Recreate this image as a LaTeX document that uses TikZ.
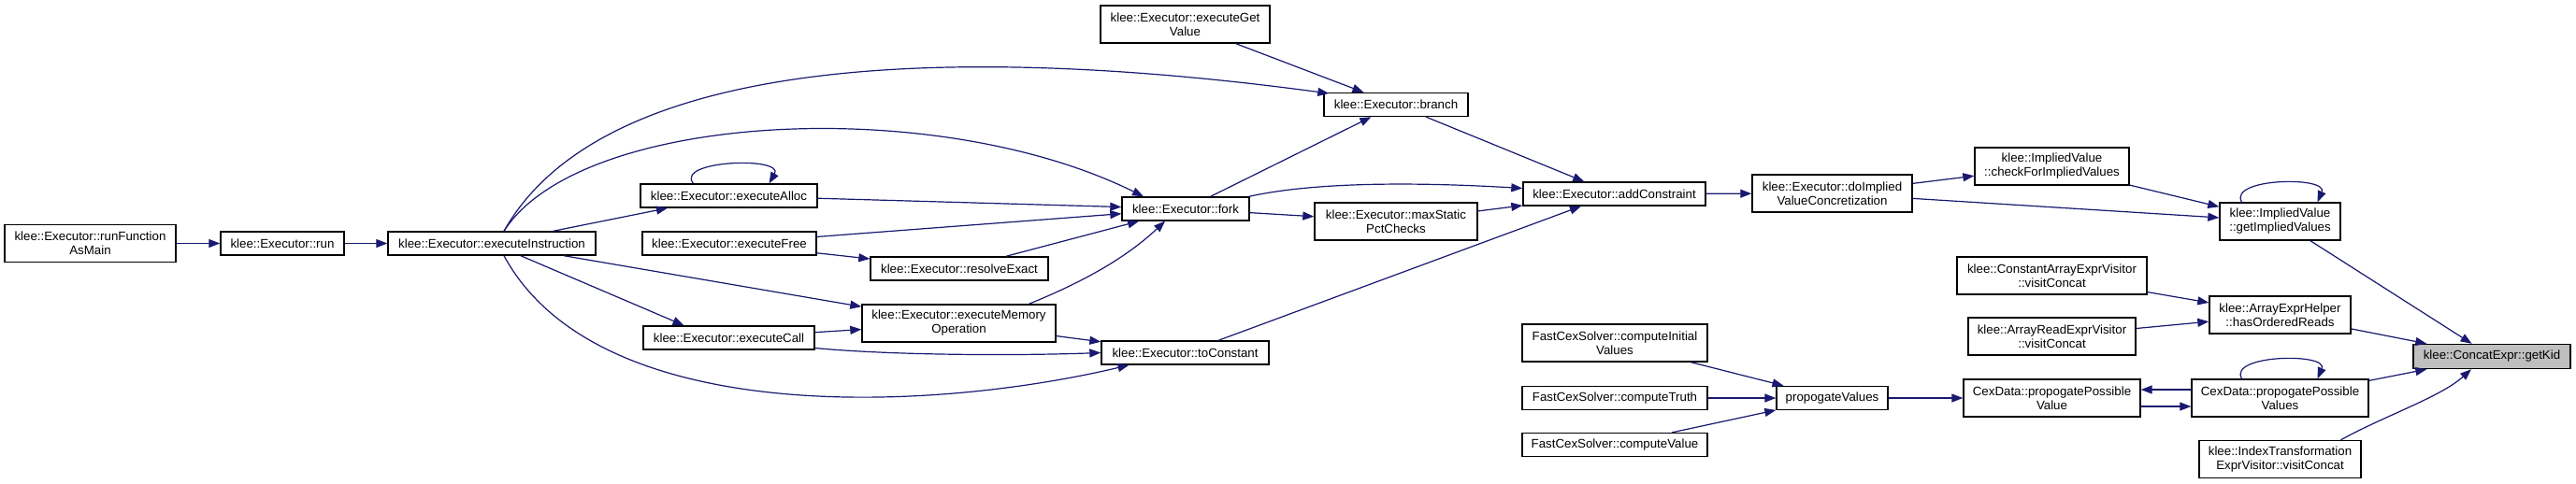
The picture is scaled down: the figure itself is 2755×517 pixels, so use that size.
\documentclass[tikz,border=0pt]{standalone}
\usepackage{fontspec}
\setmainfont{Liberation Sans}
\usetikzlibrary{arrows.meta}
\definecolor{CallBlue}{HTML}{191970}
\definecolor{KidGrey}{HTML}{BFBFBF}

\begin{document}
\begin{tikzpicture}[
  x=1pt, y=-1pt,
  fn/.style={draw=black, line width=1.4pt, fill=white, text width=#1pt, align=center, inner xsep=0pt, inner ysep=1pt, minimum height=25pt, font=\fontsize{13.3}{15}\selectfont},
  fntwo/.style={fn=#1, minimum height=40pt},
  focus/.style={fn=#1, fill=KidGrey, minimum height=26pt},
  call/.style={-{Triangle[length=12pt,width=9pt]}, draw=CallBlue, fill=CallBlue, line width=1.2pt},
  selfcall/.style={call, fill=none, -{Triangle[length=12pt,width=9pt,fill=CallBlue]}}
]
  \useasboundingbox (0,0) rectangle (2755,517);

  \node[fntwo=183] (runmain) at (96.5,260.5) {klee::Executor::runFunction\\AsMain};
  \node[fn=132] (run) at (302,260.5) {klee::Executor::run};
  \node[fn=222] (execinstr) at (526,260.5) {klee::Executor::executeInstruction};
  \node[fn=189] (execalloc) at (779.5,209.5) {klee::Executor::executeAlloc};
  \node[fn=186] (execfree) at (780,260.5) {klee::Executor::executeFree};
  \node[fn=183] (execcall) at (779.5,361.5) {klee::Executor::executeCall};
  \node[fntwo=181] (getvalue) at (1267.5,26) {klee::Executor::executeGet\\Value};
  \node[fn=154] (branch) at (1493,112) {klee::Executor::branch};
  \node[fn=136] (fork) at (1268,223.5) {klee::Executor::fork};
  \node[fntwo=174] (maxstatic) at (1493,237) {klee::Executor::maxStatic\\PctChecks};
  \node[fn=195] (addconstr) at (1726.5,207.5) {klee::Executor::addConstraint};
  \node[fn=190] (resolve) at (1026,287.5) {klee::Executor::resolveExact};
  \node[fntwo=207] (memop) at (1025.5,346) {klee::Executor::executeMemory\\Operation};
  \node[fn=179] (toconst) at (1267.5,377.5) {klee::Executor::toConstant};
  \node[fntwo=198] (initvals) at (1727,367) {FastCexSolver::computeInitial\\Values};
  \node[fn=198] (truth) at (1727,426) {FastCexSolver::computeTruth};
  \node[fn=198] (value) at (1727,476) {FastCexSolver::computeValue};
  \node[fntwo=171] (doimplied) at (1959.5,207) {klee::Executor::doImplied\\ValueConcretization};
  \node[fntwo=165] (checkimpl) at (2194.5,178) {klee::ImpliedValue\\::checkForImpliedValues};
  \node[fntwo=129] (getimpl) at (2438.5,237) {klee::ImpliedValue\\::getImpliedValues};
  \node[fntwo=203] (constvisit) at (2194.5,295) {klee::ConstantArrayExprVisitor\\::visitConcat};
  \node[fntwo=151] (ordreads) at (2438.5,337) {klee::ArrayExprHelper\\::hasOrderedReads};
  \node[fntwo=179] (readvisit) at (2194.5,360) {klee::ArrayReadExprVisitor\\::visitConcat};
  \node[focus=168] (getkid) at (2665,381.5) {klee::ConcatExpr::getKid};
  \node[fn=119] (propvalues) at (1959.5,426) {propogateValues};
  \node[fntwo=189] (possval) at (2194.5,426) {CexData::propogatePossible\\Value};
  \node[fntwo=189] (possvals) at (2438.5,426) {CexData::propogatePossible\\Values};
  \node[fntwo=173] (idxvisit) at (2438.5,491.5) {klee::IndexTransformation\\ExprVisitor::visitConcat};

  \draw[call] (runmain) -- (run);
  \draw[call] (run) -- (execinstr);
  \draw[call] (execinstr) -- (execalloc);
  \draw[selfcall] ([xshift=-38]execalloc.north) .. controls +(-20,-25) and +(17,-29) .. ([xshift=43]execalloc.north);
  \draw[selfcall] ([xshift=13]execinstr.north) .. controls (650,50) and (1050,50) .. ([xshift=6,yshift=12]branch.west);
  \draw[selfcall] ([xshift=13]execinstr.north) .. controls (620,120) and (1000,100) .. ([xshift=-45]fork.north);
  \draw[selfcall] ([xshift=13]execinstr.south) .. controls (640,460) and (1000,440) .. ([xshift=-60]toconst.south);
  \draw[call] (execinstr) -- (memop);
  \draw[call] (execinstr) -- ([xshift=-48]execcall.north);
  \draw[call] (execalloc) -- (fork);
  \draw[call] (execfree) -- (fork);
  \draw[call] (execfree) -- (resolve);
  \draw[call] (resolve) -- (fork);
  \draw[call] (execcall) -- (memop);
  \draw[selfcall] ([yshift=-11]execcall.east) .. controls (950,380) and (1080,381) .. (toconst.west);
  \draw[selfcall] ([xshift=75]memop.north) .. controls (1150,305) and (1200,280) .. ([xshift=-22]fork.south);
  \draw[call] (memop) -- (toconst);
  \draw[call] (fork) -- (branch);
  \draw[selfcall] ([xshift=-1]fork.north east) .. controls (1400,196) and (1500,194) .. ([yshift=6]addconstr.west);
  \draw[call] (fork) -- (maxstatic);
  \draw[call] (maxstatic) -- (addconstr);
  \draw[call] (getvalue) -- (branch);
  \draw[call] (branch) -- (addconstr);
  \draw[call] (toconst) -- (addconstr);
  \draw[call] (addconstr) -- (doimplied);
  \draw[call] (doimplied) -- (checkimpl);
  \draw[call] (doimplied) -- (getimpl);
  \draw[call] (checkimpl) -- (getimpl);
  \draw[selfcall] ([xshift=-41]getimpl.north) .. controls +(-15,-26) and +(12,-28) .. ([xshift=40]getimpl.north);
  \draw[call] (getimpl) -- (getkid);
  \draw[call] (constvisit) -- (ordreads);
  \draw[call] (readvisit) -- (ordreads);
  \draw[call] (ordreads) -- (getkid);
  \draw[call] (initvals) -- (propvalues);
  \draw[call] (truth) -- (propvalues);
  \draw[call] (value) -- (propvalues);
  \draw[call] (propvalues) -- (possval);
  \draw[call] ([yshift=9]possvals.west) -- ([yshift=9]possval.east);
  \draw[call] ([yshift=-9]possval.east) -- ([yshift=-9]possvals.west);
  \draw[selfcall] ([xshift=-41]possvals.north) .. controls +(-15,-26) and +(12,-28) .. ([xshift=40]possvals.north);
  \draw[call] (possvals) -- (getkid);
  \draw[selfcall] ([xshift=65]idxvisit.north) .. controls (2550,445) and (2610,425) .. ([xshift=-22]getkid.south);
\end{tikzpicture}
\end{document}
